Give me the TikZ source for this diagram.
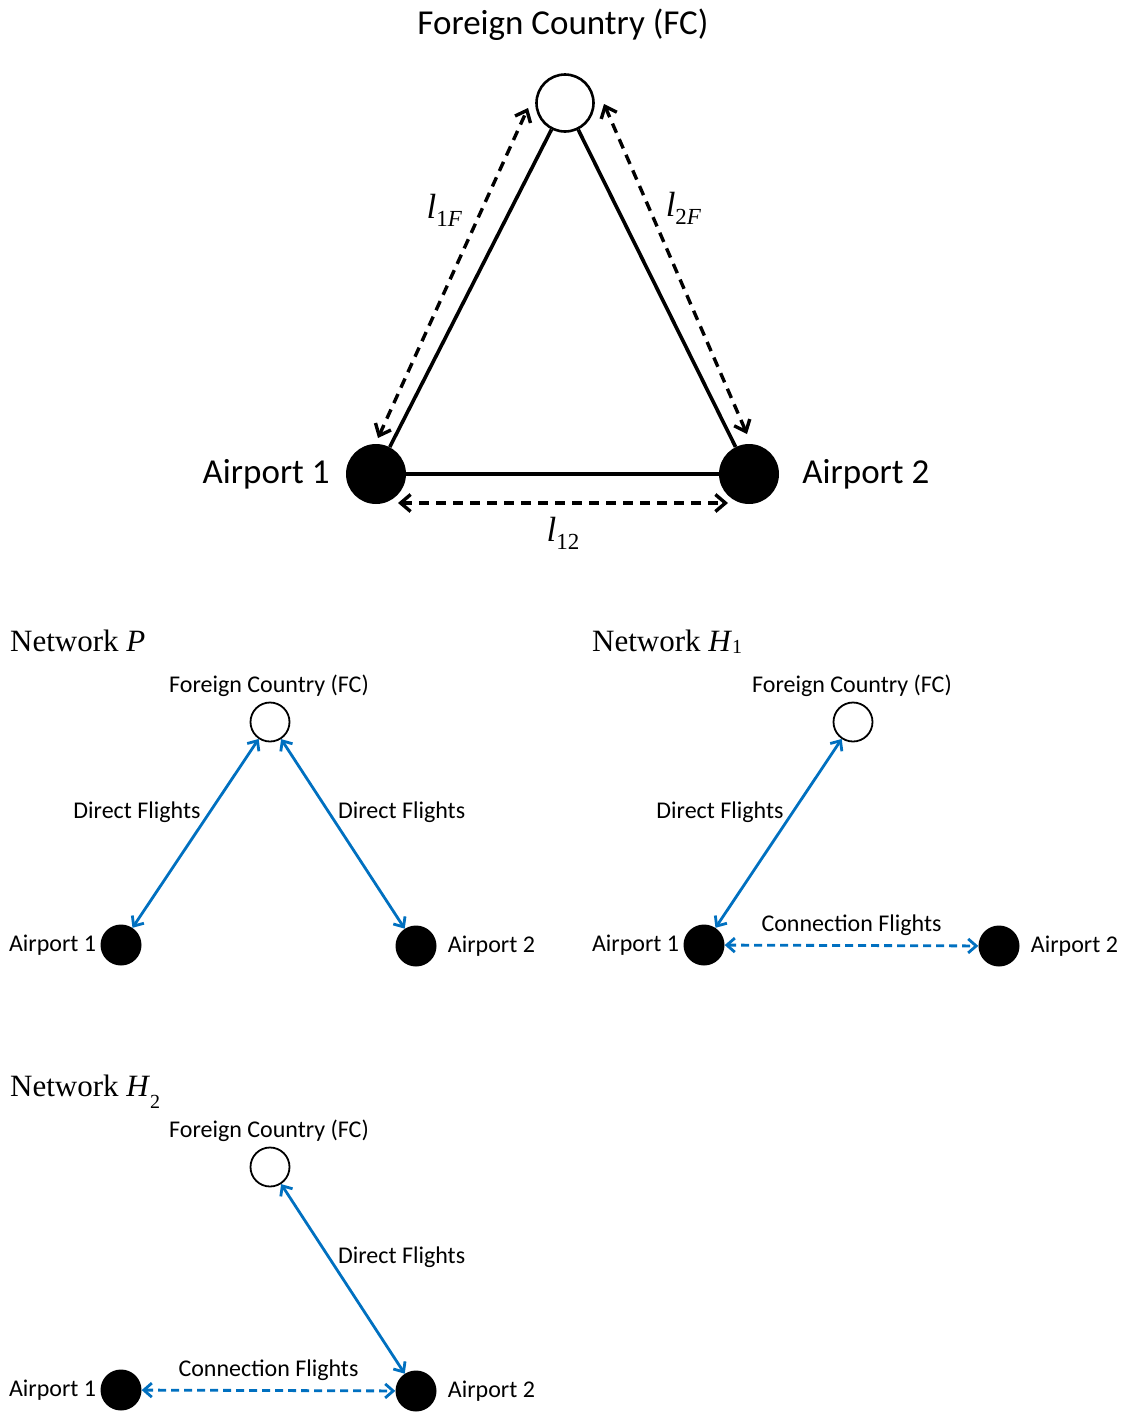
\RequirePackage{fix-cm}
\documentclass[tikz,border=0pt]{standalone}
\usepackage{fontspec}
\setmainfont{Carlito}
\newfontfamily\titlefont{Liberation Serif}
\usetikzlibrary{arrows.meta,positioning,calc}

\definecolor{flightblue}{RGB}{0,112,192}

% italic distance symbol with upright/italic subscript
\newcommand{\legsym}[2]{{\titlefont\itshape l}\raisebox{-8pt}{\fontsize{23}{23}\selectfont\titlefont #1\itshape #2}}

\begin{document}
\begin{tikzpicture}[
    x=1pt, y=-1pt,
    every node/.style={inner sep=0pt},
    % big triangle
    country/.style={circle, draw, line width=2.6pt, fill=white, minimum size=57pt},
    airport/.style={circle, fill=black, minimum size=60pt},
    bigtext/.style={font=\fontsize{35}{42}\selectfont},
    route/.style={line width=3.6pt},
    dist arrow/.style={
        line width=3.4pt,
        dash pattern=on 10pt off 7pt,
        {Straight Barb[length=10pt,width=17pt]}-{Straight Barb[length=10pt,width=17pt]}
    },
    % the three small networks
    countrysm/.style={circle, draw, line width=1.8pt, fill=white, minimum size=39pt},
    airportsm/.style={circle, fill=black, minimum size=41pt},
    smalltext/.style={font=\fontsize{24}{29}\selectfont, text=black},
    nettitle/.style={font=\titlefont\fontsize{31}{37}\selectfont, anchor=base west},
    direct/.style={
        flightblue, line width=2.8pt,
        {Straight Barb[length=8pt,width=14pt]}-{Straight Barb[length=8pt,width=14pt]}
    },
    connection/.style={direct, dash pattern=on 8pt off 5pt}
]

\useasboundingbox (0,0) rectangle (1130,1414);

% Triangle of distances
\node[country] (fc) at (565,103) {};
\node[airport] (a1) at (376,474) {};
\node[airport] (a2) at (749,474) {};
\node[bigtext] (fctxt) at (563,25) {Foreign Country (FC)};
\node[bigtext, left=16pt of a1] (a1txt) {Airport 1};
\node[bigtext, right=23pt of a2] (a2txt) {Airport 2};

\draw[route] (fc) -- (a1);
\draw[route] (a1) -- (a2);
\draw[route] (a2) -- (fc);

% dashed distance arrows beside the edges
\coordinate (l1a) at ($(a1)+(2,-36)$);
\coordinate (l1b) at ($(fc)+(-37,5)$);
\coordinate (l2a) at ($(fc)+(39,1)$);
\coordinate (l2b) at ($(a2)+(-2,-40)$);
\coordinate (l12a) at ($(a1)+(22,29)$);
\coordinate (l12b) at ($(a2)+(-21,29)$);

\draw[dist arrow] (l1a) -- node[bigtext, pos=.69, left=18pt] (l1f) {\legsym{1}{F}} (l1b);
\draw[dist arrow] (l2a) -- node[bigtext, pos=.315, right=15pt] (l2f) {\legsym{2}{F}} (l2b);
\draw[dist arrow] (l12a) -- node[bigtext, midway, below=13pt] (l12) {\legsym{12}{}} (l12b);

% Networks P, H1 and H2 share the same layout
\foreach \net/\dx/\dy in {p/0/0, ha/583/0, hb/0/445} {
  \begin{scope}[shift={(\dx,\dy)}]
    \node[countrysm] (\net-fc) at (270,722) {};
    \node[airportsm] (\net-a1) at (121,945) {};
    \node[airportsm] (\net-a2) at (416,946) {};
    \node[smalltext] (\net-fclab) at (269,686) {Foreign Country (FC)};
    \node[smalltext, left=4pt of \net-a1] (\net-a1lab) {Airport 1};
    \node[smalltext, right=11pt of \net-a2] (\net-a2lab) {Airport 2};
  \end{scope}
}

\node[nettitle] (ptitle) at (10,651) {Network \textit{P}};
\node[nettitle] (hatitle) at (592,651) {Network \textit{H}\raisebox{-2.5pt}{\fontsize{20}{20}\selectfont 1}};
\node[nettitle] (hbtitle) at (10,1096) {Network \textit{H}\raisebox{-12pt}{\fontsize{20}{20}\selectfont 2}};

% Network P
\draw[direct] (p-fc) -- node[smalltext, pos=.45, anchor=south east] (p-dl) {Direct Flights} (p-a1);
\draw[direct] (p-fc) -- node[smalltext, pos=.45, anchor=south west] (p-dr) {Direct Flights} (p-a2);

% Network H1
\draw[direct] (ha-fc) -- node[smalltext, pos=.45, anchor=south east] (ha-dl) {Direct Flights} (ha-a1);
\draw[connection] (ha-a1) -- node[smalltext, midway, above=8pt] (ha-cf) {Connection Flights} (ha-a2);

% Network H2
\draw[direct] (hb-fc) -- node[smalltext, pos=.45, anchor=south west] (hb-dr) {Direct Flights} (hb-a2);
\draw[connection] (hb-a1) -- node[smalltext, midway, above=8pt] (hb-cf) {Connection Flights} (hb-a2);

\end{tikzpicture}
\end{document}
